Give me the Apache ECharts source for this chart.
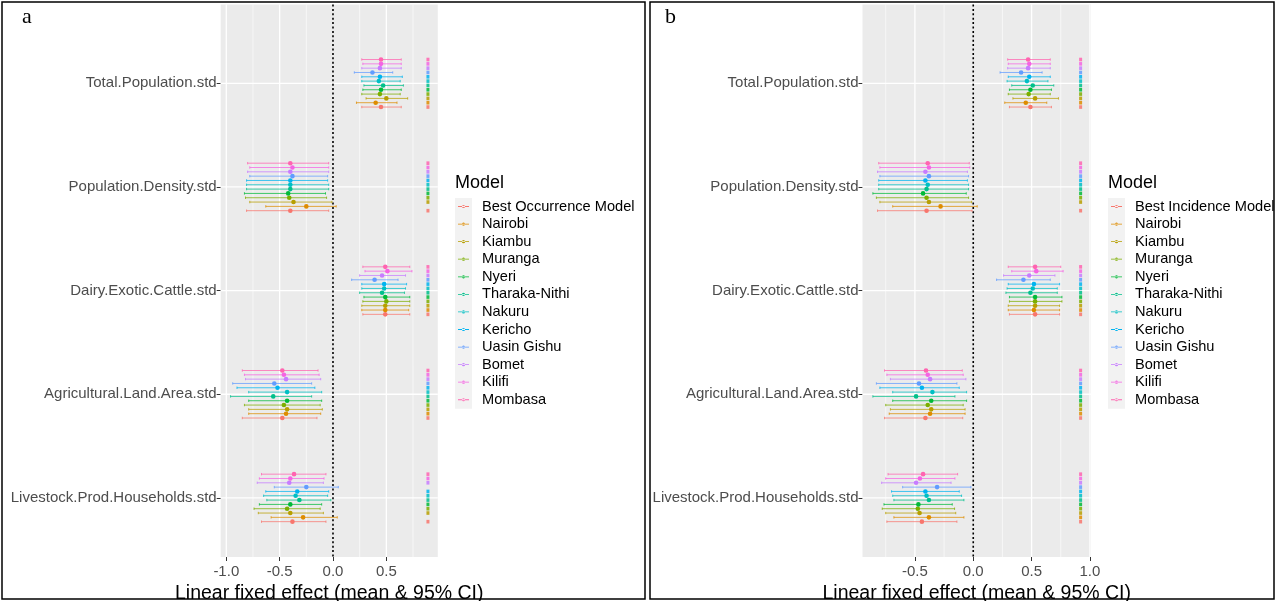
<!DOCTYPE html>
<html>
<head>
<meta charset="utf-8">
<script src="https://cdn.jsdelivr.net/npm/echarts@6/dist/echarts.min.js"></script>
<style>
html,body{margin:0;padding:0;background:#fff;}
#chart{width:1277px;height:601px;}
</style>
</head>
<body>
<div id="chart"></div>
<script>
// ---------------- DATA ----------------
const covariates = ["Total.Population.std", "Population.Density.std", "Dairy.Exotic.Cattle.std", "Agricultural.Land.Area.std", "Livestock.Prod.Households.std"];
const counties = ["Nairobi", "Kiambu", "Muranga", "Nyeri", "Tharaka-Nithi", "Nakuru", "Kericho", "Uasin Gishu", "Bomet", "Kilifi", "Mombasa"];
const occModels = ["Best Occurrence Model"].concat(counties);
const incModels = ["Best Incidence Model"].concat(counties);
const occTicks = [-1.0, -0.5, 0.0, 0.5];
const incTicks = [-0.5, 0.0, 0.5, 1.0];
const occMinor = [-0.75, -0.25, 0.25, 0.75];
const incMinor = [-0.75, -0.25, 0.25, 0.75];
const xTitle = "Linear fixed effect (mean & 95% CI)";

// Panel a (occurrence): rows = covariates, columns = models (Best, Nairobi ... Mombasa)
const occMean = [
  [0.45, 0.40, 0.50, 0.44, 0.45, 0.47, 0.43, 0.44, 0.37, 0.44, 0.45, 0.45],
  [-0.40, -0.25, -0.37, -0.41, -0.42, -0.40, -0.40, -0.40, -0.38, -0.40, -0.38, -0.40],
  [0.49, 0.49, 0.49, 0.50, 0.49, 0.46, 0.48, 0.48, 0.39, 0.46, 0.51, 0.49],
  [-0.475, -0.44, -0.43, -0.46, -0.43, -0.56, -0.43, -0.52, -0.55, -0.44, -0.46, -0.475],
  [-0.38, -0.28, -0.40, -0.43, -0.40, -0.315, -0.35, -0.335, -0.25, -0.41, -0.40, -0.365]
];
const occLow = [
  [0.27, 0.22, 0.31, 0.27, 0.28, 0.29, 0.27, 0.27, 0.20, 0.27, 0.28, 0.27],
  [-0.81, -0.63, -0.78, -0.82, -0.83, -0.81, -0.81, -0.81, -0.78, -0.80, -0.78, -0.80],
  [0.28, 0.27, 0.27, 0.28, 0.29, 0.25, 0.27, 0.27, 0.175, 0.25, 0.30, 0.28],
  [-0.85, -0.79, -0.79, -0.83, -0.79, -0.96, -0.79, -0.90, -0.94, -0.82, -0.83, -0.85],
  [-0.67, -0.58, -0.70, -0.74, -0.69, -0.62, -0.65, -0.63, -0.55, -0.71, -0.69, -0.67]
];
const occHigh = [
  [0.64, 0.60, 0.70, 0.63, 0.64, 0.66, 0.63, 0.65, 0.56, 0.64, 0.64, 0.64],
  [-0.04, 0.03, -0.01, -0.06, -0.07, -0.04, -0.04, -0.05, -0.05, -0.04, -0.04, -0.04],
  [0.72, 0.71, 0.72, 0.72, 0.72, 0.67, 0.68, 0.69, 0.61, 0.68, 0.74, 0.72],
  [-0.15, -0.115, -0.10, -0.12, -0.106, -0.20, -0.106, -0.17, -0.20, -0.115, -0.13, -0.14],
  [-0.066, 0.04, -0.09, -0.12, -0.106, -0.02, -0.05, -0.04, 0.05, -0.09, -0.084, -0.066]
];
const occSig = [
  [1, 1, 1, 1, 1, 1, 1, 1, 1, 1, 1, 1],
  [1, 0, 1, 1, 1, 1, 1, 1, 1, 1, 1, 1],
  [1, 1, 1, 1, 1, 1, 1, 1, 1, 1, 1, 1],
  [1, 1, 1, 1, 1, 1, 1, 1, 1, 1, 1, 1],
  [1, 0, 1, 1, 1, 1, 1, 1, 0, 1, 1, 1]
];

// Panel b (incidence)
const incMean = [
  [0.49, 0.45, 0.53, 0.475, 0.49, 0.51, 0.46, 0.48, 0.41, 0.47, 0.48, 0.47],
  [-0.40, -0.28, -0.38, -0.40, -0.43, -0.40, -0.39, -0.41, -0.38, -0.41, -0.38, -0.39],
  [0.53, 0.52, 0.53, 0.53, 0.53, 0.49, 0.51, 0.52, 0.43, 0.48, 0.54, 0.53],
  [-0.41, -0.37, -0.36, -0.39, -0.36, -0.49, -0.35, -0.44, -0.465, -0.37, -0.39, -0.405],
  [-0.44, -0.38, -0.46, -0.475, -0.47, -0.38, -0.40, -0.41, -0.31, -0.49, -0.457, -0.43]
];
const incLow = [
  [0.31, 0.27, 0.34, 0.30, 0.31, 0.33, 0.29, 0.30, 0.23, 0.295, 0.30, 0.295],
  [-0.82, -0.69, -0.80, -0.83, -0.86, -0.81, -0.81, -0.81, -0.80, -0.82, -0.80, -0.81],
  [0.31, 0.30, 0.30, 0.31, 0.31, 0.28, 0.29, 0.30, 0.20, 0.26, 0.33, 0.30],
  [-0.76, -0.72, -0.71, -0.75, -0.69, -0.86, -0.69, -0.80, -0.83, -0.71, -0.74, -0.76],
  [-0.74, -0.68, -0.75, -0.78, -0.765, -0.68, -0.69, -0.70, -0.605, -0.785, -0.75, -0.73]
];
const incHigh = [
  [0.67, 0.63, 0.73, 0.66, 0.67, 0.69, 0.64, 0.66, 0.59, 0.66, 0.66, 0.66],
  [-0.01, 0.034, -0.014, -0.04, -0.06, -0.04, -0.04, -0.05, -0.04, -0.05, -0.03, -0.034],
  [0.74, 0.74, 0.74, 0.76, 0.76, 0.72, 0.72, 0.74, 0.66, 0.70, 0.77, 0.75],
  [-0.09, -0.07, -0.07, -0.086, -0.057, -0.157, -0.057, -0.12, -0.14, -0.063, -0.086, -0.094],
  [-0.14, -0.08, -0.15, -0.16, -0.18, -0.08, -0.10, -0.12, -0.02, -0.19, -0.157, -0.134]
];
const incSig = [
  [1, 1, 1, 1, 1, 1, 1, 1, 1, 1, 1, 1],
  [1, 0, 1, 1, 1, 1, 1, 1, 1, 1, 1, 1],
  [1, 1, 1, 1, 1, 1, 1, 1, 1, 1, 1, 1],
  [1, 1, 1, 1, 1, 1, 1, 1, 1, 1, 1, 1],
  [1, 1, 1, 1, 1, 1, 1, 1, 1, 1, 1, 1]
];
const occSigX = 0.89;
const incSigX = 0.92;

// ---------------- STYLE ----------------
const hues = ['#F8766D', '#DE8C00', '#B79F00', '#7CAE00', '#00BA38', '#00C08B', '#00BFC4', '#00B4F0', '#619CFF', '#C77CFF', '#F564E3', '#FF64B0'];
const FONT = "'Liberation Sans', Arial, sans-serif";
const DODGE = 0.5;

function errorSeries(gi, names, mean, low, high, sig, sigX) {
  const n = names.length;
  return names.map((name, m) => ({
    type: 'custom',
    name: name,
    xAxisIndex: gi, yAxisIndex: gi,
    z: 5,
    silent: true,
    itemStyle: { color: hues[m] },
    data: covariates.map((c, k) => [low[k][m], high[k][m], mean[k][m], k, sig[k][m], sigX]),
    encode: { x: [0, 1, 2], y: 3 },
    renderItem: function (params, api) {
      // dodge: first model (Best) at the bottom of each covariate group (y axis is inverted)
      const off = (m - (n - 1) / 2) * DODGE / n;
      const y = api.value(3) - off;
      const p0 = api.coord([api.value(0), y]);
      const p1 = api.coord([api.value(1), y]);
      const pm = api.coord([api.value(2), y]);
      const col = hues[m];
      const children = [
        { type: 'line', shape: { x1: p0[0], y1: p0[1], x2: p1[0], y2: p1[1] }, style: { stroke: col, lineWidth: 1, opacity: 0.75 } },
        { type: 'line', shape: { x1: p0[0], y1: p0[1] - 1.2, x2: p0[0], y2: p0[1] + 1.2 }, style: { stroke: col, lineWidth: 1, opacity: 0.75 } },
        { type: 'line', shape: { x1: p1[0], y1: p1[1] - 1.2, x2: p1[0], y2: p1[1] + 1.2 }, style: { stroke: col, lineWidth: 1, opacity: 0.75 } },
        { type: 'circle', shape: { cx: pm[0], cy: pm[1], r: 2.3 }, style: { fill: col } }
      ];
      if (api.value(4)) {
        const ps = api.coord([api.value(5), y]);
        children.push({ type: 'rect', shape: { x: ps[0] - 1.5, y: ps[1] - 1.8, width: 3, height: 3.6 }, style: { fill: col, opacity: 0.85 } });
      }
      return { type: 'group', children: children };
    }
  }));
}

function vLineSeries(gi, values, width) {
  return {
    type: 'custom', xAxisIndex: gi, yAxisIndex: gi, z: 1, silent: true,
    data: values.map(v => [v]),
    dimensions: ['x'],
    encode: { x: 0 },
    renderItem: function (params, api) {
      const cs = params.coordSys;
      const x = api.coord([api.value(0), 0])[0];
      if (x < cs.x - 0.5 || x > cs.x + cs.width + 0.5) return null;
      return { type: 'line', shape: { x1: x, y1: cs.y, x2: x, y2: cs.y + cs.height },
        style: { stroke: '#FFFFFF', lineWidth: width } };
    }
  };
}

function gridSeries(gi, ticks, minor) {
  return [
    vLineSeries(gi, ticks.filter(t => t !== 0), 1.3),
    vLineSeries(gi, minor, 0.6),
    {
      type: 'custom', xAxisIndex: gi, yAxisIndex: gi, z: 1, silent: true,
      data: covariates.map((c, k) => [k]),
      dimensions: ['y'],
      encode: { y: 0 },
      renderItem: function (params, api) {
        const cs = params.coordSys;
        const y = api.coord([0, api.value(0)])[1];
        return { type: 'line', shape: { x1: cs.x, y1: y, x2: cs.x + cs.width, y2: y },
          style: { stroke: '#FFFFFF', lineWidth: 1.3 } };
      }
    }, {
      type: 'custom', xAxisIndex: gi, yAxisIndex: gi, z: 2, silent: true,
      data: [[0]],
      dimensions: ['x'],
      encode: { x: 0 },
      renderItem: function (params, api) {
        const cs = params.coordSys;
        const x = api.coord([api.value(0), 0])[0];
        return { type: 'line', shape: { x1: x, y1: cs.y, x2: x, y2: cs.y + cs.height },
          style: { stroke: '#000000', lineWidth: 1.6, lineDash: [2, 2.4] } };
      }
    }
  ];
}

function xAxisCfg(gi, min, max, ticks) {
  return {
    type: 'value', gridIndex: gi, min: min, max: max, position: 'bottom',
    splitLine: { show: false },
    axisLine: { show: false, onZero: false },
    axisTick: { show: true, length: 4, lineStyle: { color: '#333333' }, customValues: ticks },
    axisLabel: { customValues: ticks, formatter: v => v.toFixed(1), color: '#4D4D4D', fontSize: 15, fontFamily: FONT, margin: 7 },
    name: xTitle, nameLocation: 'middle', nameGap: 32,
    nameTextStyle: { color: '#000000', fontSize: 19.5, fontFamily: FONT, verticalAlign: 'middle' }
  };
}
function yAxisCfg(gi) {
  const idx = covariates.map((c, k) => k);
  return {
    type: 'value', gridIndex: gi, min: -0.76, max: 4.57, inverse: true, position: 'left',
    splitLine: { show: false },
    axisLine: { show: false, onZero: false },
    axisTick: { show: true, length: 4, lineStyle: { color: '#333333' }, customValues: idx },
    axisLabel: { customValues: idx, formatter: v => covariates[Math.round(v)], color: '#4D4D4D', fontSize: 15, fontFamily: FONT, margin: 4 }
  };
}

function legendIcon() {
  return 'path://M0,0 L0.05,0 L0.05,0.05 Z M17,17 L16.95,17 L16.95,16.95 Z M3,8.1 L14,8.1 L14,8.9 L3,8.9 Z M6.9,8.5 A1.6,1.6 0 1 0 10.1,8.5 A1.6,1.6 0 1 0 6.9,8.5 Z';
}
function legendCfg(left, names) {
  return {
    orient: 'vertical', left: left, top: 198, data: names,
    icon: legendIcon(), itemWidth: 17, itemHeight: 17, itemGap: 0.57,
    selectedMode: false, padding: 0,
    textStyle: { color: '#000000', fontSize: 14.6, lineHeight: 17, fontFamily: FONT, padding: [0, 0, 0, 5] }
  };
}

const chart = echarts.init(document.getElementById('chart'), null, { renderer: 'canvas' });
const option = {
  animation: false,
  backgroundColor: '#FFFFFF',
  grid: [
    { left: 220.7, top: 4.5, width: 217.1, bottom: 44, show: true, backgroundColor: '#EBEBEB', borderWidth: 0, outerBoundsMode: 'none', containLabel: false },
    { left: 862.5, top: 4.5, width: 228.5, bottom: 44, show: true, backgroundColor: '#EBEBEB', borderWidth: 0, outerBoundsMode: 'none', containLabel: false }
  ],
  xAxis: [xAxisCfg(0, -1.0525, 0.9825, occTicks), xAxisCfg(1, -0.949, 1.009, incTicks)],
  yAxis: [yAxisCfg(0), yAxisCfg(1)],
  legend: [legendCfg(455, occModels), legendCfg(1108, incModels)],
  graphic: [
    { type: 'rect', z: 100, shape: { x: 2, y: 2, width: 643, height: 597 }, style: { fill: 'none', stroke: '#000', lineWidth: 1.5 } },
    { type: 'rect', z: 100, shape: { x: 650, y: 2, width: 624, height: 597 }, style: { fill: 'none', stroke: '#000', lineWidth: 1.5 } },
    { type: 'text', left: 22, top: 6, style: { text: 'a', font: "22px 'Liberation Serif', serif", fill: '#000' } },
    { type: 'text', left: 665, top: 6, style: { text: 'b', font: "22px 'Liberation Serif', serif", fill: '#000' } },
    { type: 'text', left: 455, top: 174, style: { text: 'Model', font: "18px " + FONT, fill: '#000' } },
    { type: 'text', left: 1108, top: 174, style: { text: 'Model', font: "18px " + FONT, fill: '#000' } },
    { type: 'rect', z: -5, shape: { x: 455, y: 198, width: 17, height: 12 * 17.57 }, style: { fill: '#F2F2F2' } },
    { type: 'rect', z: -5, shape: { x: 1108, y: 198, width: 17, height: 12 * 17.57 }, style: { fill: '#F2F2F2' } }
  ],
  series: [].concat(
    gridSeries(0, occTicks, occMinor),
    gridSeries(1, incTicks, incMinor),
    errorSeries(0, occModels, occMean, occLow, occHigh, occSig, occSigX),
    errorSeries(1, incModels, incMean, incLow, incHigh, incSig, incSigX)
  )
};
chart.setOption(option);
</script>
</body>
</html>
